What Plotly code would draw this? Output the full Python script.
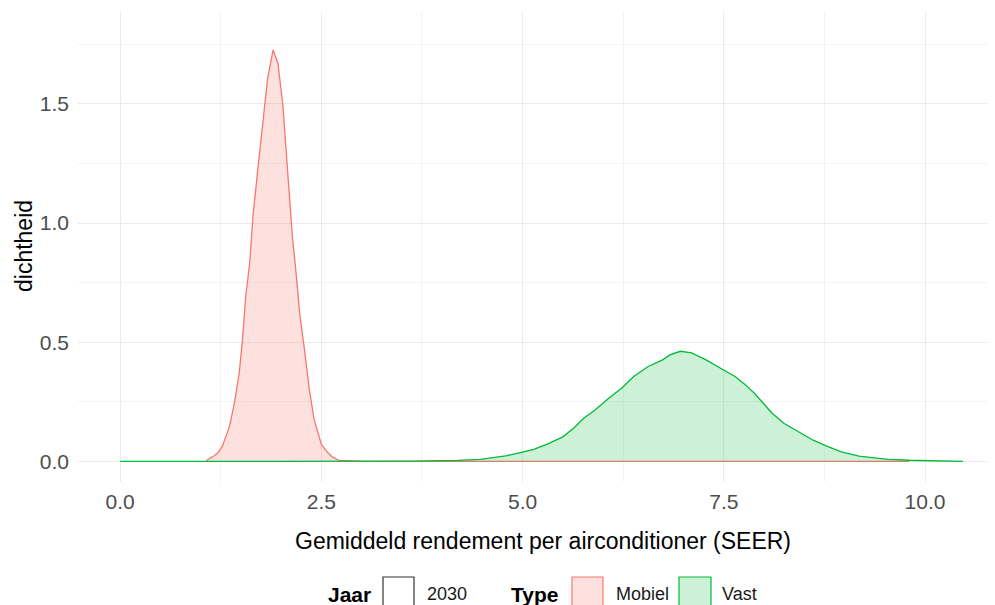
import plotly.graph_objects as go

# ---- data ----
mobiel_x = [1.07, 1.09, 1.15, 1.21, 1.27, 1.36, 1.42, 1.48, 1.52, 1.56, 1.61, 1.65, 1.71,
            1.77, 1.83, 1.90, 1.96, 2.02, 2.06, 2.10, 2.14, 2.19, 2.23, 2.29, 2.35, 2.41,
            2.50, 2.58, 2.64, 2.72, 3.0, 4.18, 6.0, 8.0, 9.8]
mobiel_y = [0.0, 0.008, 0.02, 0.034, 0.064, 0.148, 0.246, 0.372, 0.511, 0.692, 0.832, 1.028,
            1.223, 1.419, 1.60, 1.726, 1.67, 1.50, 1.32, 1.14, 0.944, 0.776, 0.623, 0.469,
            0.302, 0.176, 0.071, 0.036, 0.018, 0.004, 0.001, 0.0, 0.0, 0.0, 0.0]

vast_x = [0.0, 1.0, 2.0, 3.0, 3.6, 4.19, 4.48, 4.61, 4.79, 4.96, 5.14, 5.32, 5.50, 5.63,
          5.76, 5.90, 6.07, 6.23, 6.38, 6.56, 6.74, 6.83, 6.96, 7.10, 7.28, 7.46, 7.64,
          7.77, 7.88, 7.99, 8.10, 8.25, 8.43, 8.61, 8.78, 8.96, 9.18, 9.36, 9.54, 9.81,
          10.1, 10.47]
vast_y = [0.0, 0.0, 0.0, 0.0005, 0.001, 0.004, 0.009, 0.015, 0.023, 0.036, 0.051, 0.075,
          0.103, 0.138, 0.181, 0.216, 0.265, 0.307, 0.356, 0.398, 0.426, 0.447, 0.462,
          0.455, 0.426, 0.391, 0.356, 0.321, 0.286, 0.244, 0.202, 0.159, 0.124, 0.089,
          0.064, 0.040, 0.022, 0.015, 0.009, 0.005, 0.002, 0.0005]

x_ticks = [0.0, 2.5, 5.0, 7.5, 10.0]
x_tick_labels = ["0.0", "2.5", "5.0", "7.5", "10.0"]
y_ticks = [0.0, 0.5, 1.0, 1.5]
y_tick_labels = ["0.0", "0.5", "1.0", "1.5"]

x_title = "Gemiddeld rendement per airconditioner (SEER)"
y_title = "dichtheid"
legend_jaar_title = "Jaar"
legend_jaar_items = ["2030"]
legend_type_title = "Type"
legend_type_items = ["Mobiel", "Vast"]

# ---- styling ----
FONT = "Liberation Sans, Arial, sans-serif"
RED = "#F8766D"
GREEN = "#00BA38"
RED_FILL = "rgba(248,118,109,0.22)"
GREEN_FILL = "rgba(0,186,56,0.2)"

OFF = 8                      # page body margin of the html page
W, H = 997, 605
ML, MR, MT, MB = 70, 0, 4, 131
PW = W - ML - MR
PH = H - MT - MB


def px(sx):
    """screen x pixel -> paper coordinate"""
    return (sx - OFF - ML) / PW


def py(sy):
    """screen y pixel -> paper coordinate"""
    return (H - MB - (sy - OFF)) / PH


fig = go.Figure()
fig.add_trace(go.Scatter(x=mobiel_x, y=mobiel_y, mode="lines", fill="tozeroy",
                         fillcolor=RED_FILL, line=dict(color=RED, width=1.3),
                         name=legend_type_items[0], showlegend=False))
fig.add_trace(go.Scatter(x=vast_x, y=vast_y, mode="lines", fill="tozeroy",
                         fillcolor=GREEN_FILL, line=dict(color=GREEN, width=1.3),
                         name=legend_type_items[1], showlegend=False))

fig.update_layout(
    width=W, height=H,
    margin=dict(l=ML, r=MR, t=MT, b=MB),
    paper_bgcolor="white", plot_bgcolor="white",
    font=dict(family=FONT),
    showlegend=False,
)

fig.update_xaxes(
    range=[-0.5235, 10.9935],
    tickmode="array", tickvals=x_ticks, ticktext=x_tick_labels,
    tickfont=dict(size=21, color="#4D4D4D", family=FONT),
    showgrid=True, gridcolor="#EBEBEB", gridwidth=1.1,
    minor=dict(dtick=1.25, tick0=0, showgrid=True, gridcolor="#F3F3F3", gridwidth=0.6),
    zeroline=False, showline=False, ticks="",
    ticklabelstandoff=5,
)
fig.update_yaxes(
    range=[-0.0863, 1.885],
    tickmode="array", tickvals=y_ticks, ticktext=y_tick_labels,
    tickfont=dict(size=21, color="#4D4D4D", family=FONT),
    showgrid=True, gridcolor="#EBEBEB", gridwidth=1.1,
    minor=dict(dtick=0.25, tick0=0, showgrid=True, gridcolor="#F3F3F3", gridwidth=0.6),
    zeroline=False, showline=False, ticks="",
    ticklabelstandoff=8,
)

annotations = [
    dict(text=x_title, x=px(543), y=py(541), xref="paper", yref="paper",
         xanchor="center", yanchor="middle", showarrow=False,
         font=dict(size=23, color="black", family=FONT)),
    dict(text=y_title, x=px(24), y=py(246), xref="paper", yref="paper", textangle=-90,
         xanchor="center", yanchor="middle", showarrow=False,
         font=dict(size=23, color="black", family=FONT)),
]

# manual legend
leg_y = 594
shapes = []


def legend_title(text, xl):
    annotations.append(dict(text="<b>%s</b>" % text, x=px(xl), y=py(leg_y), xref="paper",
                            yref="paper", xanchor="left", yanchor="middle", showarrow=False,
                            font=dict(size=21, color="black", family=FONT)))


def legend_item(text, x0, x1, line, fill, xt):
    shapes.append(dict(type="rect", xref="paper", yref="paper", x0=px(x0), x1=px(x1),
                       y0=py(577), y1=py(610), line=dict(color=line, width=1.2),
                       fillcolor=fill, layer="above"))
    annotations.append(dict(text=text, x=px(xt), y=py(leg_y), xref="paper", yref="paper",
                            xanchor="left", yanchor="middle", showarrow=False,
                            font=dict(size=18, color="#1A1A1A", family=FONT)))


legend_title(legend_jaar_title, 326)
legend_item(legend_jaar_items[0], 383, 414, "#333333", "white", 425)
legend_title(legend_type_title, 509)
legend_item(legend_type_items[0], 572, 603, RED, RED_FILL, 614)
legend_item(legend_type_items[1], 679, 711, GREEN, GREEN_FILL, 720)

fig.update_layout(annotations=annotations, shapes=shapes)

fig.write_html("out.html")
